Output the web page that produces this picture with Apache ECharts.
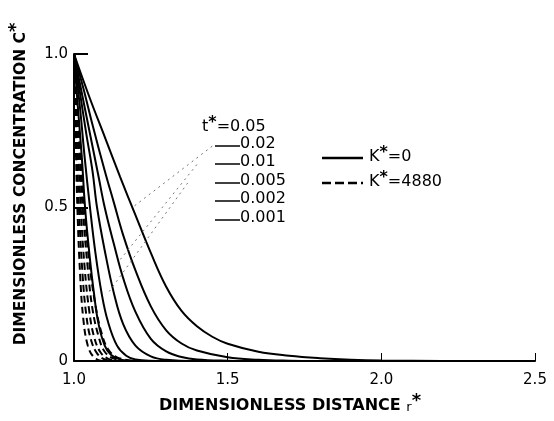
<!DOCTYPE html>
<html><head><meta charset="utf-8">
<script src="https://cdn.jsdelivr.net/npm/echarts@6/dist/echarts.min.js"></script>
<style>html,body{margin:0;padding:0;background:#fff}#c{width:554px;height:421px}</style>
</head><body><div id="c"></div>
<script>
// x ticks / y ticks
const xTicks = [1.0, 1.5, 2.0, 2.5];
const yTicks = [0, 0.5, 1.0];
const tLabels = ['0.05', '0.02', '0.01', '0.005', '0.002', '0.001'];
// Solid curves, K* = 0  ([r*, C*])
const solid005 = [[1.0,1.0],[1.05,0.86],[1.1,0.73],[1.15,0.6],[1.2,0.475],[1.25,0.352],[1.3,0.242],[1.35,0.163],[1.4,0.113],[1.45,0.079],[1.5,0.056],[1.6,0.03],[1.7,0.017],[1.8,0.009],[1.9,0.004],[2.0,0.0015],[2.2,0.0003],[2.5,0]];
const solid002 = [[1.0,1.0],[1.03,0.89],[1.06,0.77],[1.1,0.62],[1.13,0.515],[1.16,0.41],[1.2,0.295],[1.25,0.178],[1.3,0.1],[1.35,0.057],[1.4,0.034],[1.5,0.012],[1.6,0.004],[1.7,0.001],[1.8,0]];
const solid001 = [[1.0,1.0],[1.02,0.9],[1.05,0.75],[1.08,0.6],[1.1,0.5],[1.13,0.38],[1.16,0.27],[1.2,0.16],[1.25,0.072],[1.3,0.031],[1.35,0.013],[1.4,0.005],[1.5,0.001],[1.6,0]];
const solid0005 = [[1.0,1.0],[1.02,0.87],[1.04,0.74],[1.06,0.62],[1.075,0.5],[1.1,0.36],[1.13,0.22],[1.16,0.12],[1.2,0.05],[1.25,0.015],[1.3,0.004],[1.4,0]];
const solid0002 = [[1.0,1.0],[1.02,0.82],[1.035,0.66],[1.052,0.5],[1.07,0.35],[1.09,0.22],[1.11,0.13],[1.14,0.05],[1.17,0.017],[1.2,0.005],[1.3,0]];
const solid0001 = [[1.0,1.0],[1.01,0.86],[1.025,0.67],[1.036,0.5],[1.05,0.35],[1.065,0.22],[1.08,0.12],[1.1,0.05],[1.12,0.02],[1.15,0.005],[1.2,0]];
// Dashed curves, K* = 4880
const dash005 = [[1,1],[1.01,0.84],[1.02,0.69],[1.033,0.5],[1.05,0.32],[1.07,0.18],[1.09,0.09],[1.11,0.04],[1.14,0.012],[1.2,0]];
const dash002 = [[1,1],[1.01,0.82],[1.02,0.65],[1.028,0.5],[1.045,0.3],[1.06,0.17],[1.08,0.08],[1.1,0.03],[1.13,0.008],[1.18,0]];
const dash001 = [[1,1],[1.01,0.78],[1.022,0.5],[1.035,0.3],[1.05,0.16],[1.065,0.08],[1.085,0.03],[1.11,0.008],[1.15,0]];
const dash0005 = [[1,1],[1.008,0.74],[1.016,0.5],[1.028,0.28],[1.04,0.15],[1.055,0.07],[1.075,0.025],[1.1,0.005],[1.13,0]];
const dash0002 = [[1,1],[1.005,0.74],[1.011,0.5],[1.02,0.28],[1.03,0.14],[1.045,0.05],[1.065,0.012],[1.09,0]];
// dotted leader lines (annotation, data space)
const leader1 = [[1.45,0.70],[1.19,0.5]];
const leader2 = [[1.40,0.64],[1.15,0.33]];
const leader3 = [[1.37,0.58],[1.11,0.22]];

const solids = [solid005, solid002, solid001, solid0005, solid0002, solid0001];
const dashes = [dash005, dash002, dash001, dash0005, dash0002];

const chart = echarts.init(document.getElementById('c'), null, {renderer: 'canvas'});
const FONT = 'DejaVu Sans';
const series = [];
solids.forEach(d => series.push({
  type: 'line', data: d, smooth: 0.4, showSymbol: false, silent: true, clip: true,
  lineStyle: {color: '#000', width: 2}
}));
dashes.forEach(d => series.push({
  type: 'line', data: d, smooth: 0.4, showSymbol: false, silent: true, clip: true,
  lineStyle: {color: '#000', width: 2, type: [7, 4]}
}));
[leader1, leader2, leader3].forEach(d => series.push({
  type: 'line', data: d, showSymbol: false, silent: true,
  lineStyle: {color: '#777', width: 1, type: [2, 4]}
}));

const labelYs = [128, 146, 164, 183, 201, 220];
const graphics = [];
graphics.push({type: 'text', left: 202, top: 115, style: {
  text: '{a|t}{s|*}{a|=0.05}', rich: {
    a: {fontFamily: FONT, fontSize: 16, fill: '#000'},
    s: {fontFamily: FONT, fontSize: 16, fontWeight: 'bold', fill: '#000', padding: [0,0,8,0]}
  }}});
for (let i = 1; i < tLabels.length; i++) {
  graphics.push({type: 'line', shape: {x1: 215, y1: labelYs[i], x2: 240, y2: labelYs[i]}, style: {stroke: '#000', lineWidth: 1.5}});
  graphics.push({type: 'text', left: 240, top: labelYs[i] - 10, style: {text: tLabels[i], fontFamily: FONT, fontSize: 16, fill: '#000'}});
}
// legend
graphics.push({type: 'line', shape: {x1: 322, y1: 158, x2: 363, y2: 158}, style: {stroke: '#000', lineWidth: 2.5}});
graphics.push({type: 'line', shape: {x1: 322, y1: 183, x2: 363, y2: 183}, style: {stroke: '#000', lineWidth: 2.5, lineDash: [9, 4]}});
const kRich = {
  a: {fontFamily: FONT, fontSize: 16, fill: '#000'},
  s: {fontFamily: FONT, fontSize: 16, fontWeight: 'bold', fill: '#000', padding: [0,0,8,0]}
};
graphics.push({type: 'text', left: 369, top: 145, style: {text: '{a|K}{s|*}{a|=0}', rich: kRich}});
graphics.push({type: 'text', left: 369, top: 170, style: {text: '{a|K}{s|*}{a|=4880}', rich: kRich}});
// axis titles
const titleRich = {
  a: {fontFamily: FONT, fontSize: 16, fontWeight: 'bold', fill: '#000'},
  r: {fontFamily: FONT, fontSize: 13, fill: '#000', padding: [4,0,0,0]},
  s: {fontFamily: FONT, fontSize: 18, fontWeight: 'bold', fill: '#000', padding: [0,0,10,0]}
};
graphics.push({type: 'text', x: 290, y: 406, style: {
  text: '{a|DIMENSIONLESS DISTANCE }{r|r}{s|*}', rich: titleRich, align: 'center', verticalAlign: 'middle'}});
graphics.push({type: 'text', x: 21, y: 184, rotation: Math.PI / 2, style: {
  text: '{a|DIMENSIONLESS CONCENTRATION C}{s|*}', rich: {
    a: {fontFamily: FONT, fontSize: 15.5, fontWeight: 'bold', fill: '#000'},
    s: {fontFamily: FONT, fontSize: 18, fontWeight: 'bold', fill: '#000', padding: [0,0,10,0]}
  }, align: 'center', verticalAlign: 'middle'}});

chart.setOption({
  animation: false,
  backgroundColor: '#fff',
  grid: {left: 74, right: 19, top: 54, bottom: 60, containLabel: false, outerBoundsMode: 'none'},
  xAxis: {
    type: 'value', min: 1.0, max: 2.5, interval: 0.5,
    axisLine: {lineStyle: {color: '#000', width: 2}},
    axisTick: {inside: true, length: 8, lineStyle: {color: '#000', width: 1}},
    splitLine: {show: false},
    axisLabel: {color: '#000', fontFamily: FONT, fontSize: 15, margin: 12,
      formatter: v => xTicks.includes(v) ? v.toFixed(1) : ''}
  },
  yAxis: {
    type: 'value', min: 0, max: 1, interval: 0.5,
    axisLine: {show: true, lineStyle: {color: '#000', width: 2}},
    axisTick: {show: true, inside: true, length: 14, lineStyle: {color: '#000', width: 2}},
    splitLine: {show: false},
    axisLabel: {color: '#000', fontFamily: FONT, fontSize: 15, margin: 6,
      formatter: v => v === 0 ? '0' : (yTicks.includes(v) ? v.toFixed(1) : '')}
  },
  series: series,
  graphic: graphics
});
</script></body></html>
